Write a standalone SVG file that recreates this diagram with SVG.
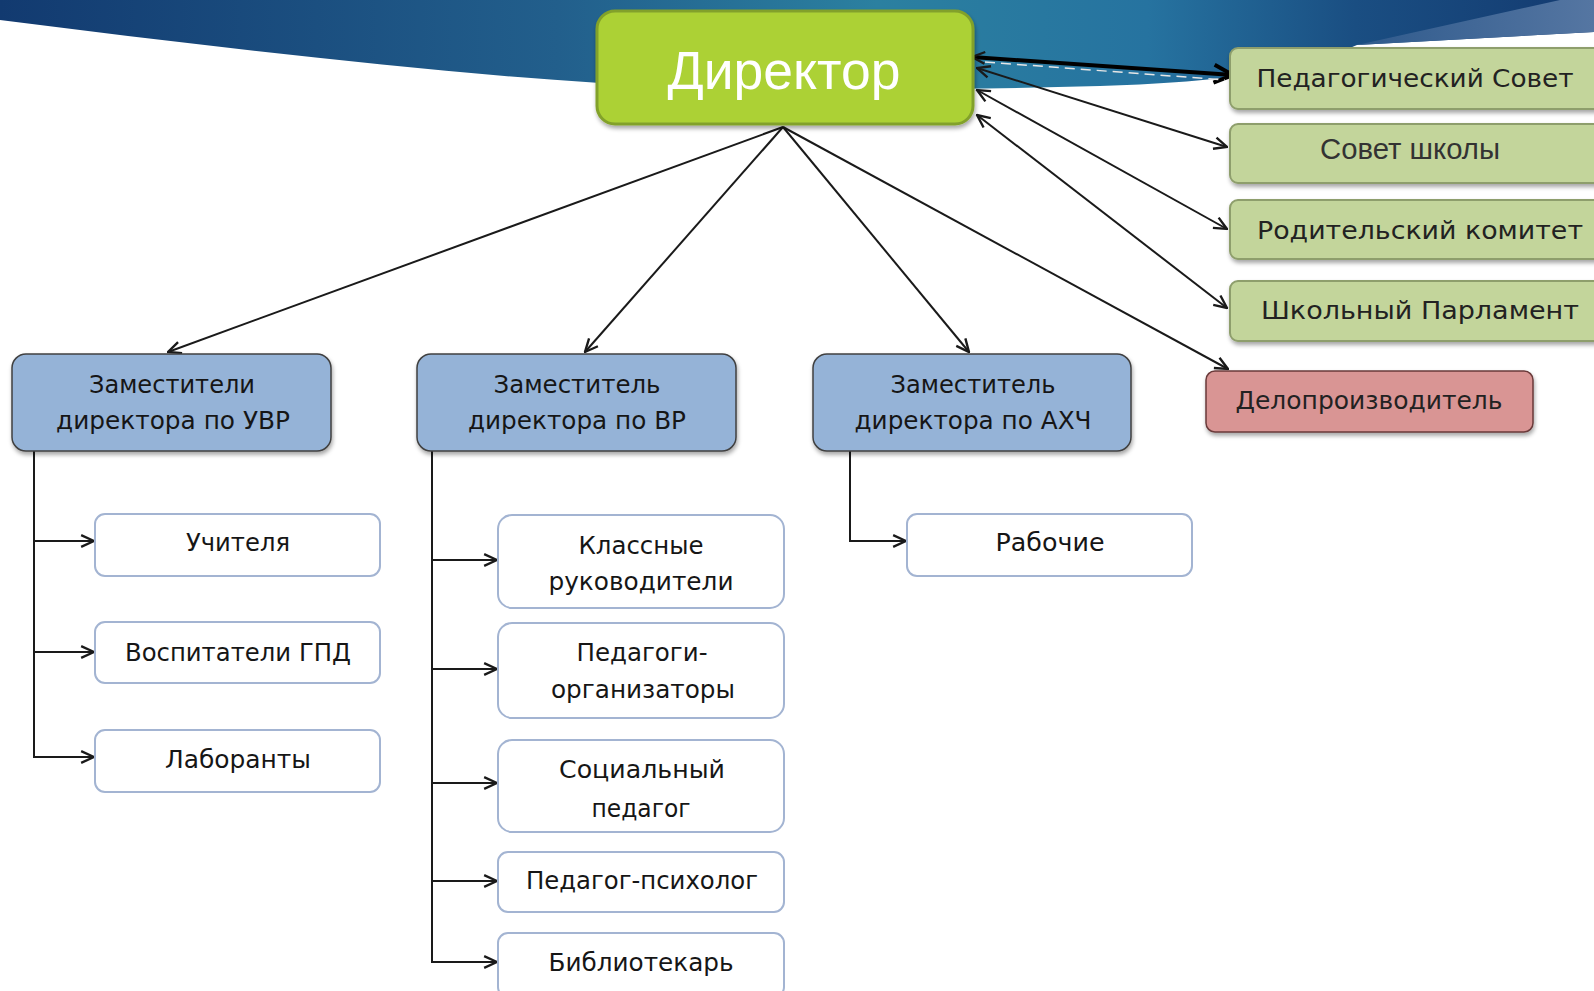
<svg xmlns="http://www.w3.org/2000/svg" width="1594" height="991" viewBox="0 0 1594 991">
<defs>
<linearGradient id="band" x1="0" y1="0" x2="1594" y2="0" gradientUnits="userSpaceOnUse">
<stop offset="0" stop-color="#123a70"/>
<stop offset="0.35" stop-color="#225f8c"/>
<stop offset="0.55" stop-color="#2b80a0"/>
<stop offset="0.72" stop-color="#2673a0"/>
<stop offset="0.85" stop-color="#1a4e82"/>
<stop offset="1" stop-color="#133a70"/>
</linearGradient>
<linearGradient id="wedge" x1="1357" y1="0" x2="1594" y2="0" gradientUnits="userSpaceOnUse">
<stop offset="0" stop-color="#2f5a8c"/>
<stop offset="1" stop-color="#5576a2"/>
</linearGradient>
<filter id="sh" x="-5%" y="-10%" width="110%" height="130%">
<feDropShadow dx="1" dy="3" stdDeviation="2" flood-color="#000" flood-opacity="0.35"/>
</filter>
<marker id="ah" viewBox="0 0 14 14" refX="13" refY="7" markerWidth="15" markerHeight="15" markerUnits="userSpaceOnUse" orient="auto-start-reverse">
<path d="M1,1.5 L13,7 L1,12.5" fill="none" stroke="#1a1a1a" stroke-width="2.2"/>
</marker>
<marker id="ahb" viewBox="0 0 24 24" refX="22" refY="12" markerWidth="24" markerHeight="24" markerUnits="userSpaceOnUse" orient="auto-start-reverse">
<path d="M3,3 L22,12 L3,21" fill="none" stroke="#000" stroke-width="4"/>
</marker>
<style>
.ln{fill:none;stroke:#1a1a1a;stroke-width:2}
.blue{fill:#95b3d7;stroke:#404040;stroke-width:1.5}
.wht{fill:#fff;stroke:#a3b4d2;stroke-width:2}
.grn{fill:#c3d59b;stroke:#8e9e6c;stroke-width:2}
.red{fill:#d99594;stroke:#6a3a3a;stroke-width:1.5}
.t{font-family:"DejaVu Sans","Noto Sans",sans-serif;font-size:24px;fill:#161616;text-anchor:middle}
.tg{font-family:"DejaVu Sans","Noto Sans",sans-serif;font-size:24px;fill:#222;text-anchor:middle}
</style>
</defs>

<rect width="1594" height="991" fill="#fff"/>
<path d="M0,0 L1594,0 L1594,32 L1357,45 C1300,70 1230,82 1100,86 C900,92 700,88 600,83 C400,70 200,45 0,20 Z" fill="url(#band)"/>
<polygon points="1357,45 1560,0 1594,0 1594,32" fill="url(#wedge)"/>

<g id="connectors">
<line class="ln" x1="783" y1="127" x2="168" y2="352" marker-end="url(#ah)"/>
<line class="ln" x1="783" y1="127" x2="585" y2="352" marker-end="url(#ah)"/>
<line class="ln" x1="783" y1="127" x2="969" y2="352" marker-end="url(#ah)"/>
<line class="ln" x1="783" y1="127" x2="1228" y2="369" marker-end="url(#ah)"/>
<line x1="972" y1="57" x2="1233" y2="75" fill="none" stroke="#000" stroke-width="4" marker-end="url(#ahb)" marker-start="url(#ah)"/>
<line x1="985" y1="62" x2="1225" y2="80" fill="none" stroke="#e6e6e6" stroke-width="1.5" stroke-dasharray="10 6"/>
<line class="ln" x1="977" y1="68" x2="1227" y2="147" marker-end="url(#ah)" marker-start="url(#ah)"/>
<line class="ln" x1="977" y1="90" x2="1227" y2="229" marker-end="url(#ah)" marker-start="url(#ah)"/>
<line class="ln" x1="977" y1="115" x2="1227" y2="308" marker-end="url(#ah)" marker-start="url(#ah)"/>
<polyline class="ln" points="34,451 34,757"/>
<line class="ln" x1="34" y1="541" x2="94" y2="541" marker-end="url(#ah)"/>
<line class="ln" x1="34" y1="652" x2="94" y2="652" marker-end="url(#ah)"/>
<line class="ln" x1="33" y1="757" x2="94" y2="757" marker-end="url(#ah)"/>
<polyline class="ln" points="432,451 432,962"/>
<line class="ln" x1="432" y1="560" x2="497" y2="560" marker-end="url(#ah)"/>
<line class="ln" x1="432" y1="669" x2="497" y2="669" marker-end="url(#ah)"/>
<line class="ln" x1="432" y1="783" x2="497" y2="783" marker-end="url(#ah)"/>
<line class="ln" x1="432" y1="881" x2="497" y2="881" marker-end="url(#ah)"/>
<line class="ln" x1="431" y1="962" x2="497" y2="962" marker-end="url(#ah)"/>
<polyline class="ln" points="850,451 850,541 906,541" marker-end="url(#ah)"/>
</g>

<g id="director">
<rect x="597" y="11" width="376" height="113" rx="18" fill="#acd136" stroke="#82a12a" stroke-width="3" filter="url(#sh)"/>
<text x="784" y="89" font-family="'Liberation Sans',Arial,sans-serif" font-size="54" fill="#fff" text-anchor="middle" textLength="233" lengthAdjust="spacingAndGlyphs">Директор</text>
</g>

<g id="ped-sovet">
<rect class="grn" x="1230" y="48" width="380" height="61" rx="8" filter="url(#sh)"/>
<text class="tg" x="1415" y="87" textLength="317" lengthAdjust="spacingAndGlyphs">Педагогический Совет</text>
</g>
<g id="sovet-shkoly">
<rect class="grn" x="1230" y="124" width="380" height="59" rx="8" filter="url(#sh)"/>
<text x="1410" y="159" font-family="'Liberation Sans',Arial,sans-serif" font-size="29" fill="#333" text-anchor="middle" textLength="180" lengthAdjust="spacingAndGlyphs">Совет школы</text>
</g>
<g id="roditelsky">
<rect class="grn" x="1230" y="200" width="380" height="59" rx="8" filter="url(#sh)"/>
<text class="tg" x="1420" y="239" textLength="326" lengthAdjust="spacingAndGlyphs">Родительский комитет</text>
</g>
<g id="parlament">
<rect class="grn" x="1230" y="281" width="380" height="60" rx="8" filter="url(#sh)"/>
<text class="tg" x="1420" y="319" textLength="318" lengthAdjust="spacingAndGlyphs">Школьный Парламент</text>
</g>
<g id="deloproizv">
<rect class="red" x="1206" y="371" width="327" height="61" rx="9" filter="url(#sh)"/>
<text class="tg" x="1369" y="409" textLength="267" lengthAdjust="spacingAndGlyphs">Делопроизводитель</text>
</g>

<g id="zam-uvr">
<rect class="blue" x="12" y="354" width="319" height="97" rx="14" filter="url(#sh)"/>
<text class="t" x="172" y="393" textLength="166" lengthAdjust="spacingAndGlyphs">Заместители</text>
<text class="t" x="173" y="429" textLength="234" lengthAdjust="spacingAndGlyphs">директора по УВР</text>
</g>
<g id="zam-vr">
<rect class="blue" x="417" y="354" width="319" height="97" rx="14" filter="url(#sh)"/>
<text class="t" x="577" y="393" textLength="167" lengthAdjust="spacingAndGlyphs">Заместитель</text>
<text class="t" x="577" y="429" textLength="218" lengthAdjust="spacingAndGlyphs">директора по ВР</text>
</g>
<g id="zam-ahch">
<rect class="blue" x="813" y="354" width="318" height="97" rx="14" filter="url(#sh)"/>
<text class="t" x="973" y="393" textLength="165" lengthAdjust="spacingAndGlyphs">Заместитель</text>
<text class="t" x="973" y="429" textLength="237" lengthAdjust="spacingAndGlyphs">директора по АХЧ</text>
</g>

<g id="uchitelya">
<rect class="wht" x="95" y="514" width="285" height="62" rx="10"/>
<text class="t" x="238" y="551" textLength="104" lengthAdjust="spacingAndGlyphs">Учителя</text>
</g>
<g id="vospitateli">
<rect class="wht" x="95" y="622" width="285" height="61" rx="10"/>
<text class="t" x="238" y="661" textLength="226" lengthAdjust="spacingAndGlyphs">Воспитатели ГПД</text>
</g>
<g id="laboranty">
<rect class="wht" x="95" y="730" width="285" height="62" rx="10"/>
<text class="t" x="238" y="768" textLength="146" lengthAdjust="spacingAndGlyphs">Лаборанты</text>
</g>

<g id="klassnye">
<rect class="wht" x="498" y="515" width="286" height="93" rx="14"/>
<text class="t" x="641" y="554" textLength="125" lengthAdjust="spacingAndGlyphs">Классные</text>
<text class="t" x="641" y="590" textLength="185" lengthAdjust="spacingAndGlyphs">руководители</text>
</g>
<g id="pedagogi-org">
<rect class="wht" x="498" y="623" width="286" height="95" rx="14"/>
<text class="t" x="642" y="661" textLength="131" lengthAdjust="spacingAndGlyphs">Педагоги-</text>
<text class="t" x="643" y="698" textLength="184" lengthAdjust="spacingAndGlyphs">организаторы</text>
</g>
<g id="socialny">
<rect class="wht" x="498" y="740" width="286" height="92" rx="14"/>
<text class="t" x="642" y="778" textLength="166" lengthAdjust="spacingAndGlyphs">Социальный</text>
<text class="t" x="641" y="817" textLength="99" lengthAdjust="spacingAndGlyphs">педагог</text>
</g>
<g id="psiholog">
<rect class="wht" x="498" y="852" width="286" height="60" rx="10"/>
<text class="t" x="642" y="889" textLength="232" lengthAdjust="spacingAndGlyphs">Педагог-психолог</text>
</g>
<g id="bibliotekar">
<rect class="wht" x="498" y="933" width="286" height="64" rx="10"/>
<text class="t" x="641" y="971" textLength="185" lengthAdjust="spacingAndGlyphs">Библиотекарь</text>
</g>

<g id="rabochie">
<rect class="wht" x="907" y="514" width="285" height="62" rx="10"/>
<text class="t" x="1050" y="551" textLength="109" lengthAdjust="spacingAndGlyphs">Рабочие</text>
</g>
</svg>
